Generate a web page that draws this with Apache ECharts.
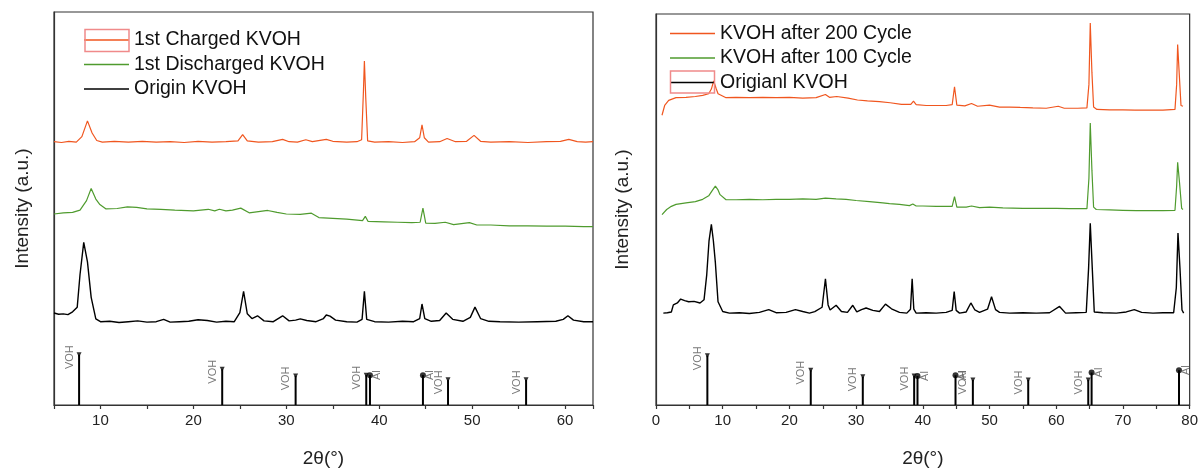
<!DOCTYPE html>
<html>
<head>
<meta charset="utf-8">
<script src="https://cdn.jsdelivr.net/npm/echarts@6/dist/echarts.min.js"></script>
<style>html,body{margin:0;padding:0;background:#fff}#c{width:1201px;height:473px}</style>
</head>
<body>
<div id="c"></div>
<script>
// ---------- data (2θ in degrees, intensity in arbitrary units, offset per pattern) ----------
const leftNames = ['1st Charged KVOH', '1st Discharged KVOH', 'Origin KVOH'];
const rightNames = ['KVOH after 200 Cycle', 'KVOH after 100 Cycle', 'Origianl KVOH'];
const xTickLabelsLeft = [10, 20, 30, 40, 50, 60];
const xTickLabelsRight = [0, 10, 20, 30, 40, 50, 60, 70, 80];

const leftCharged = [[5,67.0],[5.8,66.8],[6.6,67.1],[7.4,66.9],[8.0,68.3],[8.6,72.3],[9.1,69.2],[9.6,67.3],[10.2,66.9],[11.5,67.1],[13,66.9],[14.5,67.1],[16,66.9],[17.5,67.0],[19,66.8],[20.5,67.1],[22,66.9],[23.5,67.0],[24.8,67.2],[25.3,68.8],[25.8,67.2],[27,66.9],[28.5,67.0],[29.6,67.6],[30.3,67.0],[31.2,66.9],[32.1,67.5],[32.8,67.0],[34.3,67.6],[35,67.1],[36.5,66.9],[37.6,67.0],[38.1,67.5],[38.3,80],[38.4,87.5],[38.55,78],[38.75,67.2],[39.5,66.9],[41,67.0],[42.5,66.8],[43.8,67.0],[44.35,68],[44.6,71.3],[44.85,68],[45.3,66.9],[46.5,67.0],[47.3,67.8],[48.2,67.0],[49.4,67.1],[50.2,68.6],[50.9,67.1],[52,66.9],[54,67.0],[56,66.8],[58,67.0],[59.5,67.1],[60.4,67.6],[61.3,67.0],[62.2,66.9],[63,67.0]];
const leftDischarged = [[5,48.6],[6,48.9],[7,49.0],[7.8,49.6],[8.5,52],[9.0,55.1],[9.5,52.4],[9.9,51.1],[10.6,49.9],[11.8,50.0],[12.9,50.4],[13.9,50.3],[15,49.9],[16.5,49.8],[18,49.6],[20,49.4],[21.6,49.8],[22.3,49.4],[22.8,49.8],[23.5,49.4],[24.2,49.6],[25.1,50.1],[26,48.9],[27,49.2],[28,49.5],[29,49.0],[30,48.6],[31.5,48.5],[32.7,48.8],[33.5,47.7],[35,47.5],[36.5,47.3],[38.2,46.9],[38.5,48.0],[38.8,46.7],[40.5,46.6],[42,46.5],[43.5,46.4],[44.4,46.5],[44.7,50.1],[45.0,46.3],[46,46.2],[47.1,46.5],[48,45.9],[49.7,46.4],[50.5,45.8],[52,45.8],[54,45.6],[56,45.6],[58,45.5],[60,45.5],[62,45.4],[63,45.4]];
const leftOrigin = [[5,23.4],[5.5,23.1],[6,23.2],[6.5,23.0],[7,23.7],[7.5,24.9],[7.8,33.2],[8.2,41.4],[8.6,36.4],[9.0,27.4],[9.5,21.9],[10,21.2],[11,21.3],[12,21.0],[13,21.2],[14,21.4],[15,21.1],[16,21.2],[16.8,21.8],[17.5,21.1],[18.5,21.2],[19.5,21.3],[20.5,21.7],[21.5,21.5],[22.5,21.1],[23.5,21.3],[24.4,21.2],[25.0,23.5],[25.4,28.9],[25.8,23.2],[26.3,22.0],[26.9,22.7],[27.6,21.4],[28.6,21.2],[29.6,22.7],[30.3,21.4],[31.0,21.6],[31.5,21.9],[32.2,21.5],[33.2,21.2],[34.0,22.0],[34.3,22.9],[34.7,22.6],[35.3,21.6],[36.5,21.2],[37.6,21.1],[38.15,21.8],[38.4,28.9],[38.65,21.8],[39.5,21.2],[41,21.1],[42.5,21.3],[43.7,21.2],[44.35,22],[44.6,25.7],[44.9,22],[45.6,21.3],[46.5,21.5],[47.2,23.4],[47.9,21.8],[49,21.3],[49.8,22.3],[50.3,24.9],[50.9,22.0],[51.8,21.3],[53,21.2],[55,21.1],[57,21.2],[59,21.3],[59.8,21.8],[60.3,22.7],[60.9,21.6],[62,21.2],[63,21.2]];

const rightCycle200 = [[0.9,74.1],[1.3,76.6],[1.9,77.9],[3.0,78.6],[4.5,78.7],[5.9,78.9],[7.0,79.2],[7.9,79.6],[8.3,80.8],[8.65,82.9],[9.0,81.0],[9.3,79.6],[10.5,78.6],[12,78.7],[14,78.6],[16,78.7],[18,78.6],[20,78.7],[22,78.5],[24,78.6],[25.4,79.4],[26,78.7],[27.1,78.9],[28.8,78.5],[30.2,78.0],[31.7,77.8],[33.5,77.6],[35.1,77.3],[36.8,76.9],[38.2,76.9],[38.6,77.7],[39.0,76.8],[40.5,76.6],[42,76.6],[43.5,76.6],[44.4,76.8],[44.75,81.4],[45.1,76.7],[46.3,76.5],[47.3,77.1],[48.2,76.4],[50.0,76.7],[51.5,76.2],[53,76.2],[54.6,76.1],[56.5,76.0],[58.5,75.9],[60.3,76.4],[61.2,75.9],[63.2,75.9],[64.6,76.0],[64.9,82],[65.1,97.7],[65.35,85],[65.6,76.2],[66.1,75.6],[68,75.5],[70,75.5],[71.8,75.4],[74,75.4],[76,75.4],[77.8,75.6],[78.05,82],[78.2,92.2],[78.4,85.9],[78.7,76.6],[79.0,76.4]];
const rightCycle100 = [[0.9,48.7],[1.6,50.0],[2.3,50.8],[3.0,51.3],[4.5,51.7],[5.9,52.0],[7.0,52.6],[7.9,53.5],[8.5,55],[8.9,56.0],[9.3,55.0],[9.6,53.8],[10.5,52.5],[12,52.5],[14,52.6],[16,52.5],[18,52.6],[20,52.6],[22,52.7],[24,52.6],[25.4,52.9],[27,52.7],[28.5,52.6],[30,52.3],[32,52.0],[34,51.7],[35,51.5],[36.5,51.3],[38,51.0],[38.5,51.4],[39,50.9],[40,50.9],[42,50.8],[44.4,50.8],[44.75,53.3],[45.1,50.6],[46.5,50.6],[47.3,50.9],[48.5,50.5],[50,50.6],[52,50.4],[55,50.3],[58,50.3],[60,50.3],[62,50.2],[64.6,50.2],[64.9,58],[65.1,72.1],[65.35,60],[65.6,50.6],[66,50.0],[68,49.9],[70,49.8],[72,49.7],[74,49.7],[76,49.7],[77.8,49.8],[78.05,56],[78.2,62.1],[78.5,56.5],[78.8,50.3],[79,50.0]];
const rightOrigin = [[1.1,23.5],[1.7,23.6],[2.3,23.8],[2.6,25.6],[3.2,26.1],[3.7,27.1],[4.3,26.7],[4.9,26.4],[5.7,26.5],[6.6,26.1],[7.2,26.9],[7.6,33.2],[7.95,42],[8.3,46.2],[8.6,42],[8.9,36.4],[9.3,26.4],[10.0,23.9],[11,23.5],[12.5,23.6],[14,23.4],[15.5,23.7],[16.9,24.4],[18,23.6],[19.5,23.7],[20.9,24.4],[22,23.9],[23.0,23.5],[23.8,23.9],[24.9,25],[25.4,32.3],[25.8,25.6],[26.1,24.3],[27.0,25.5],[27.8,23.9],[28.7,23.7],[29.5,25.5],[30.1,23.8],[30.8,24.4],[31.5,24.8],[32.5,24.2],[33.5,23.9],[34.4,25.8],[35.3,24.6],[36.5,23.7],[37.6,23.5],[38.15,24.5],[38.4,32.3],[38.65,24.5],[39.0,23.5],[40.5,23.6],[42,23.5],[43.5,23.7],[44.4,24.2],[44.7,29.0],[45.0,24.2],[45.5,23.5],[46.5,23.8],[47.2,26.1],[47.8,24.3],[48.5,23.7],[49.7,24.5],[50.3,27.7],[50.9,24.4],[51.5,23.7],[53,23.5],[55,23.6],[57,23.5],[59,23.6],[60.5,25.2],[61.4,23.5],[63,23.6],[64.5,23.7],[64.85,35],[65.1,46.5],[65.4,35],[65.7,23.8],[67,23.6],[69,23.5],[70.5,23.8],[71.7,24.4],[72.8,23.7],[74.5,23.5],[76,23.6],[77.6,23.6],[78.0,30],[78.25,44.0],[78.55,34.9],[78.85,24.3],[79.1,23.5]];

// reference stick patterns
const leftVOH = [[7.7,12.8],[23.1,9.1],[31.0,7.4],[38.6,7.6],[47.4,6.4],[55.8,6.4]];
const leftAl = [[39.0,7.6],[44.7,7.6]];
const rightVOH = [[7.7,12.6],[23.2,8.9],[31.0,7.2],[38.7,7.4],[47.5,6.4],[55.8,6.4],[64.8,6.4]];
const rightAl = [[39.2,7.4],[44.9,7.6],[65.3,8.3],[78.4,8.9]];
const phaseVOH = 'VOH';
const phaseAl = 'Al';

// ---------- chart ----------
const FONT = '"Liberation Sans", Arial, sans-serif';
const ORANGE = '#F0561F', GREEN = '#4F9B2E', BLACK = '#000000';

function xAxis(gridIndex, min, max, labels) {
  return {
    type: 'value', gridIndex, min, max, interval: 5,
    name: '2θ(°)', nameLocation: 'middle', nameGap: 44,
    nameTextStyle: { fontSize: 19, color: '#222', fontFamily: FONT },
    axisLine: { show: true, lineStyle: { color: '#333', width: 1.2 } },
    axisTick: { show: true, inside: false, length: 4, lineStyle: { color: '#333', width: 1.2 } },
    axisLabel: {
      show: true, margin: 8, fontSize: 15, color: '#222', fontFamily: FONT,
      showMinLabel: true, showMaxLabel: true,
      formatter: v => labels.indexOf(v) >= 0 ? String(v) : ''
    },
    splitLine: { show: false }
  };
}
function yAxis(gridIndex, gap) {
  return {
    type: 'value', gridIndex, min: 0, max: 100,
    name: 'Intensity (a.u.)', nameLocation: 'middle', nameGap: gap,
    nameTextStyle: { fontSize: 19, color: '#222', fontFamily: FONT },
    axisLine: { show: true, lineStyle: { color: '#333', width: 1.2 } },
    axisTick: { show: false }, axisLabel: { show: false }, splitLine: { show: false }
  };
}
function curve(name, data, color, idx, w) {
  return {
    type: 'line', name, data, xAxisIndex: idx, yAxisIndex: idx,
    symbol: 'none', showSymbol: false, smooth: false,
    lineStyle: { color, width: w }, itemStyle: { color }, z: 3
  };
}
function sticks(data, idx) {
  return {
    type: 'custom', xAxisIndex: idx, yAxisIndex: idx, data, z: 4,
    encode: { x: 0, y: 1 },
    renderItem: function (params, api) {
      const x = api.value(0), h = api.value(1);
      const p0 = api.coord([x, 0]), p1 = api.coord([x, h]);
      return { type: 'line', shape: { x1: p0[0], y1: p0[1], x2: p1[0], y2: p1[1] },
               style: { stroke: '#000', lineWidth: 2 } };
    }
  };
}
function tops(data, idx, label, isAl) {
  return {
    type: 'scatter', xAxisIndex: idx, yAxisIndex: idx, data, z: 5,
    symbol: isAl ? 'circle' : 'triangle', symbolSize: isAl ? 6 : 5,
    symbolRotate: isAl ? 0 : 180,
    itemStyle: { color: '#000' },
    label: {
      show: true, formatter: label, rotate: 90,
      position: isAl ? [10, 3] : [-7, 5],
      align: 'center', verticalAlign: 'middle',
      fontSize: 11, color: '#555', fontFamily: FONT
    }
  };
}
function legend(left, top, data, fontSize, gap) {
  return {
    orient: 'vertical', left, top, padding: 0, itemWidth: 45, itemHeight: 1.5, itemGap: gap,
    icon: 'rect', data, selectedMode: false,
    textStyle: { fontSize, lineHeight: 20, color: '#111', fontFamily: FONT }
  };
}

const chart = echarts.init(document.getElementById('c'), null, { renderer: 'canvas' });
chart.setOption({
  animation: false,
  backgroundColor: '#fff',
  textStyle: { fontFamily: FONT },
  grid: [
    { left: 54, right: 608, top: 12, bottom: 60, show: true, borderColor: '#333', borderWidth: 1.2, backgroundColor: 'transparent' },
    { left: 656, right: 10, top: 14, bottom: 61, show: true, borderColor: '#333', borderWidth: 1.2, backgroundColor: 'transparent' }
  ],
  xAxis: [xAxis(0, 5, 63, xTickLabelsLeft), xAxis(1, 0, 80, xTickLabelsRight)],
  yAxis: [yAxis(0, 22), yAxis(1, 24)],
  legend: [
    legend(84, 30, leftNames, 19.5, 4.5),
    legend(670, 23.5, rightNames, 19.5, 4.5)
  ],
  graphic: [
    { type: 'rect', shape: { x: 85, y: 29.5, width: 44, height: 22 }, style: { fill: 'none', stroke: '#F08A8A', lineWidth: 1.5 }, z: 100 },
    { type: 'rect', shape: { x: 670.5, y: 71, width: 44, height: 22 }, style: { fill: 'none', stroke: '#F08A8A', lineWidth: 1.5 }, z: 100 }
  ],
  series: [
    curve(leftNames[0], leftCharged, ORANGE, 0, 1.2),
    curve(leftNames[1], leftDischarged, GREEN, 0, 1.2),
    curve(leftNames[2], leftOrigin, BLACK, 0, 1.4),
    sticks(leftVOH, 0), sticks(leftAl, 0),
    tops(leftVOH, 0, phaseVOH, false), tops(leftAl, 0, phaseAl, true),
    curve(rightNames[0], rightCycle200, ORANGE, 1, 1.2),
    curve(rightNames[1], rightCycle100, GREEN, 1, 1.2),
    curve(rightNames[2], rightOrigin, BLACK, 1, 1.4),
    sticks(rightVOH, 1), sticks(rightAl, 1),
    tops(rightVOH, 1, phaseVOH, false), tops(rightAl, 1, phaseAl, true)
  ]
});
</script>
</body>
</html>
